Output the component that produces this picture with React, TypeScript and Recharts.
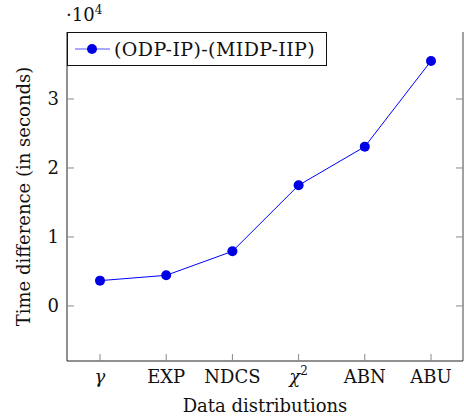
import { LineChart, Line, XAxis, YAxis } from "recharts";

const categories = ["γ", "EXP", "NDCS", "χ²", "ABN", "ABU"];
const timeDiff = [3670, 4440, 7920, 17490, 23090, 35510];
const yTicks = [0, 10000, 20000, 30000];

const data = categories.map((name, i) => ({ name, diff: timeDiff[i] }));

const FONT = "'DejaVu Serif', 'Liberation Serif', serif";
const FS = 18;
const BLUE = "#0000ff";
const Y_DOMAIN: [number, number] = [-7980, 39710];
const TICK = -7;

const XTick = (props: any) => {
  const { x, y, payload } = props;
  const v: string = payload.value;
  let body: any = v;
  if (v === "γ") body = <tspan fontStyle="italic">γ</tspan>;
  if (v === "χ²")
    body = (
      <>
        <tspan fontStyle="italic">χ</tspan>
        <tspan fontSize={12} dy={-8}>2</tspan>
      </>
    );
  return (
    <text x={x} y={y + 29} textAnchor="middle" fill="#111" fontFamily={FONT} fontSize={FS}>
      {body}
    </text>
  );
};

const NoLabel = () => <g />;

const LegendBox = () => (
  <div
    style={{
      position: "absolute",
      left: 67,
      top: 32,
      width: 260,
      height: 34,
      boxSizing: "border-box",
      border: "1px solid #111",
      background: "#fff",
      display: "flex",
      alignItems: "center",
      fontFamily: FONT,
      fontSize: 19,
      color: "#111",
    }}
  >
    <svg width={42} height={20} style={{ marginLeft: 6, flex: "none" }}>
      <line x1={1} y1={10} x2={36} y2={10} stroke="#5555ff" strokeWidth={1.2} />
      <circle cx={18} cy={10} r={5} fill="#0000e6" />
    </svg>
    <span style={{ marginLeft: -2, whiteSpace: "nowrap", letterSpacing: 0.4 }}>(ODP-IP)-(MIDP-IIP)</span>
  </div>
);

export default function App() {
  return (
    <div style={{ position: "absolute", left: 0, top: 0, width: 464, height: 419, background: "#fff" }}>
      <LineChart
        width={464}
        height={419}
        data={data}
        margin={{ top: 32, right: 0, bottom: 0, left: 0 }}
      >
        <XAxis
          dataKey="name"
          height={58}
          padding={{ left: 33, right: 32 }}
          tickSize={TICK}
          tickMargin={0}
          tick={<XTick />}
          axisLine={{ stroke: "#222", strokeWidth: 1 }}
          tickLine={{ stroke: "#888" }}
          interval={0}
          label={{
            content: (p: any) => {
              const vb = p.viewBox;
              return (
                <text x={vb.x + vb.width / 2} y={vb.y + 51} textAnchor="middle" fontFamily={FONT} fontSize={FS} fill="#111">
                  Data distributions
                </text>
              );
            },
          }}
        />
        <XAxis
          xAxisId="top"
          dataKey="name"
          orientation="top"
          height={0}
          padding={{ left: 33, right: 32 }}
          tickSize={TICK}
          tick={NoLabel}
          axisLine={{ stroke: "#222", strokeWidth: 1 }}
          tickLine={{ stroke: "#888" }}
          interval={0}
        />
        <YAxis
          width={67}
          type="number"
          domain={Y_DOMAIN}
          ticks={yTicks}
          tickFormatter={(v: number) => String(v / 10000)}
          tickSize={TICK}
          tickMargin={15}
          allowDataOverflow
          tick={{ fontFamily: FONT, fontSize: FS, fill: "#111" }}
          axisLine={{ stroke: "#222", strokeWidth: 1 }}
          tickLine={{ stroke: "#888" }}
          label={{
            content: (p: any) => {
              const vb = p.viewBox;
              const cx = vb.x + 23;
              const cy = vb.y + vb.height / 2;
              return (
                <text x={cx} y={cy} transform={`rotate(-90 ${cx} ${cy})`} textAnchor="middle" dominantBaseline="central" fontFamily={FONT} fontSize={FS} fill="#111">
                  Time difference (in seconds)
                </text>
              );
            },
          }}
        />
        <YAxis
          yAxisId="right"
          orientation="right"
          width={1}
          type="number"
          domain={Y_DOMAIN}
          ticks={yTicks}
          allowDataOverflow
          tickSize={TICK}
          tick={NoLabel}
          axisLine={{ stroke: "#444", strokeWidth: 1 }}
          tickLine={{ stroke: "#888" }}
        />
        <Line
          xAxisId="top"
          yAxisId="right"
          dataKey="diff"
          stroke="none"
          dot={false}
          activeDot={false}
          legendType="none"
          isAnimationActive={false}
        />
        <Line
          type="linear"
          dataKey="diff"
          stroke={BLUE}
          strokeWidth={1}
          dot={{ r: 5, fill: "#0000e6", stroke: "#0000e6", strokeWidth: 0 }}
          isAnimationActive={false}
        />
      </LineChart>
      <div style={{ position: "absolute", left: 66, top: 4, fontFamily: FONT, fontSize: FS, color: "#111", whiteSpace: "nowrap" }}>
        ·10<span style={{ fontSize: 12, position: "relative", top: -7 }}>4</span>
      </div>
      <LegendBox />
    </div>
  );
}
